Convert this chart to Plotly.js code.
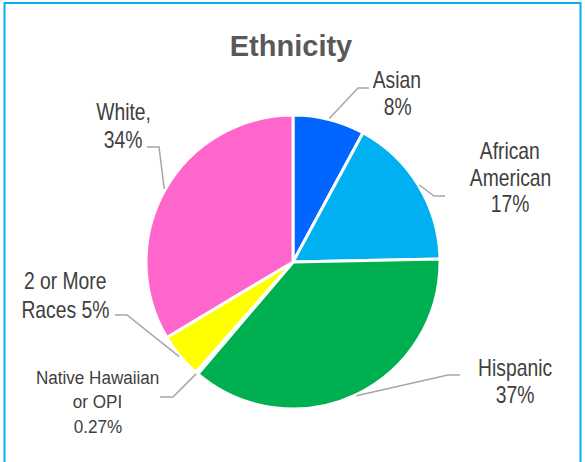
<!DOCTYPE html>
<html>
<head>
<meta charset="utf-8">
<script src="https://cdn.plot.ly/plotly-3.0.1.min.js"></script>
<style>html,body{margin:0;padding:0;background:#fff;}#chart{width:585px;height:462px;}</style>
</head>
<body>
<div id="chart"></div>
<script>
// ---- data ----
const categories = ["Asian", "African American", "Hispanic", "Native Hawaiian or OPI", "2 or More Races", "White"];
const values = [8, 17, 37, 0.27, 5, 34];
const labelLines = [["Asian", "8%"], ["African", "American", "17%"], ["Hispanic", "37%"],
                    ["Native Hawaiian", "or OPI", "0.27%"], ["2 or More", "Races 5%"], ["White,", "34%"]];
const colors = ["#0066FF", "#00B0F0", "#00B050", "#7F7F7F", "#FFFF00", "#FF66CC"];

// ---- layout helpers (pixel geometry) ----
const W = 585, H = 462;
const CX = 293, CY = 262, R = 147;
// label centre x, first line y, line spacing
const labelX = [397, 510, 515, 98, 65, 123];
const labelY0 = [80, 151, 368, 377, 281, 112];
const lineGap = [27, 26.5, 27, 24.5, 29, 28];
const labelSize = [23, 23, 23, 19, 23, 23];
const labelScaleX = [0.84, 0.84, 0.84, 0.9, 0.84, 0.84];
const elbowPos = [[358, 88], [434, 196], [448, 375], [173, 397], [127, 315], [159, 147]];
const endPos   = [[369, 88], [445, 196], [460, 375], [160, 397], [115, 315], [147, 147]];

const px = x => x / W, py = y => 1 - y / H;

const total = values.reduce((a, b) => a + b, 0);
let cum = 0;
const shapes = [];
const annotations = [];
const annScale = [];
values.forEach((v, i) => {
  const mid = (cum + v / 2) / total * 2 * Math.PI;
  cum += v;
  const sx = CX + (R + 1) * Math.sin(mid), sy = CY - (R + 1) * Math.cos(mid);
  const e = elbowPos[i], t = endPos[i];
  shapes.push({type: "path", xref: "paper", yref: "paper",
    path: `M ${px(sx)} ${py(sy)} L ${px(e[0])} ${py(e[1])} L ${px(t[0])} ${py(t[1])}`,
    line: {color: "#A6A6A6", width: 1.5}});
  labelLines[i].forEach((ln, k) => {
    annotations.push({xref: "paper", yref: "paper", x: px(labelX[i]), y: py(labelY0[i] + k * lineGap[i]),
      xanchor: "center", yanchor: "middle", showarrow: false, align: "center",
      text: ln,
      font: {family: "Liberation Sans, Arial", size: labelSize[i], color: "#404040"}});
    annScale.push(labelScaleX[i]);
  });
});

// chart border
shapes.push({type: "rect", xref: "paper", yref: "paper", x0: px(4.5), x1: px(580.5), y0: py(470), y1: py(3),
  line: {color: "#00B0F0", width: 2}, fillcolor: "rgba(0,0,0,0)"});

const trace = {
  type: "pie",
  labels: categories,
  values: values,
  sort: false,
  direction: "clockwise",
  rotation: 0,
  textinfo: "none",
  hoverinfo: "label+percent",
  marker: {colors: colors, line: {color: "#FFFFFF", width: 3}},
  domain: {x: [(CX - R) / W, (CX + R) / W], y: [1 - (CY + R) / H, 1 - (CY - R) / H]},
  showlegend: false
};

const layout = {
  width: W, height: H,
  margin: {l: 0, r: 0, t: 0, b: 0},
  paper_bgcolor: "#FFFFFF",
  title: {text: "<b>Ethnicity</b>", x: px(291), xanchor: "center", y: py(46), yanchor: "middle",
    font: {family: "Liberation Sans, Arial", size: 29, color: "#595959"}},
  showlegend: false,
  shapes: shapes,
  annotations: annotations
};

Plotly.newPlot("chart", [trace], layout, {displayModeBar: false, staticPlot: true}).then(gd => {
  // emulate the narrow label font of the original by condensing text horizontally
  gd.querySelectorAll(".annotation").forEach((g, idx) => {
    const di = g.getAttribute("data-index");
    const s = annScale[di !== null ? +di : idx];
    const txt = g.querySelector("text.annotation-text");
    if (!txt || !s) return;
    const x = parseFloat(txt.getAttribute("x")) || 0;
    txt.setAttribute("transform", `translate(${x * (1 - s)},0) scale(${s},1)`);
  });
});
</script>
</body>
</html>
